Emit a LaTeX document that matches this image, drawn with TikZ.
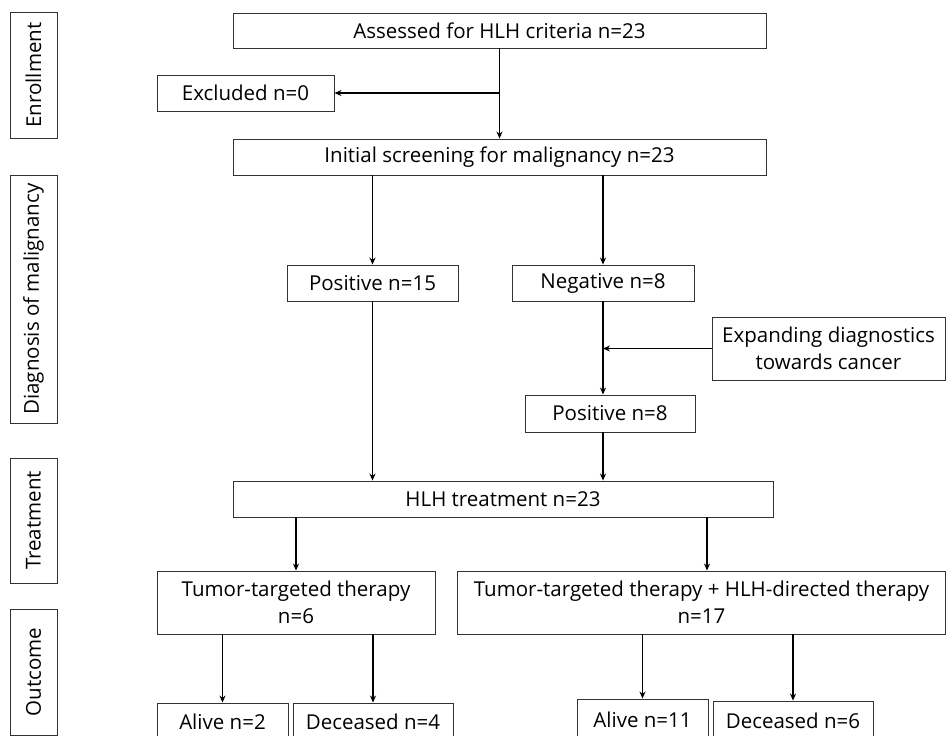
\documentclass[tikz,border=0pt]{standalone}
\usepackage{fontspec}
\setmainfont{Open Sans}
\usetikzlibrary{arrows.meta}
\begin{document}
\begin{tikzpicture}[x=1pt,y=-1pt,
  box/.style={draw=black!80,line width=0.9pt,inner sep=0pt,
    font=\fontsize{20.5}{24.6}\selectfont},
  two/.style={box,align=center,font=\fontsize{20.5}{27}\selectfont},
  lbl/.style={box,rotate=90,minimum height=47pt},
  arr/.style={draw=black,line width=1.4pt,-{Stealth[length=7pt,width=6pt]}}]
\useasboundingbox (0,0) rectangle (946,736);
\clip (0,0) rectangle (946,736);
% stage labels
\node[lbl,minimum width=126pt] (lenr) at (33.5,75) {Enrollment};
\node[lbl,minimum width=248pt] (ldia) at (33.5,299) {Diagnosis of malignancy};
\node[lbl,minimum width=125pt] (ltre) at (33.5,520.5) {Treatment};
\node[lbl,minimum width=126pt] (lout) at (33.5,672) {Outcome};
% boxes
\node[box,minimum width=533pt,minimum height=35pt] (assess) at (499.5,30.5) {Assessed for HLH criteria n=23};
\node[box,minimum width=177pt,minimum height=36pt] (excl) at (245.5,93) {Excluded n=0};
\node[box,minimum width=533pt,minimum height=36pt] (init) at (499.5,157) {Initial screening for malignancy n=23};
\node[box,minimum width=171pt,minimum height=36pt] (pos15) at (372.5,283) {Positive n=15};
\node[box,minimum width=182pt,minimum height=36pt] (neg) at (603,283) {Negative n=8};
\node[two,minimum width=233pt,minimum height=63pt] (exp) at (828.5,348.5) {Expanding diagnostics\\towards cancer};
\node[box,minimum width=170pt,minimum height=37pt] (pos8) at (610,413.5) {Positive n=8};
\node[box,minimum width=540pt,minimum height=36pt] (hlh) at (503,499) {HLH treatment n=23};
\node[two,minimum width=278pt,minimum height=63pt] (tum) at (296,602.5) {Tumor-targeted therapy\\n=6};
\node[two,minimum width=488pt,minimum height=63pt] (comb) at (701.5,602.5) {Tumor-targeted therapy + HLH-directed therapy\\n=17};
\node[box,minimum width=131pt,minimum height=37pt] (a2) at (222.5,721.5) {Alive n=2};
\node[box,minimum width=160pt,minimum height=37pt] (d4) at (373,721.5) {Deceased n=4};
\node[box,minimum width=131pt,minimum height=41pt] (a11) at (642.5,719.5) {Alive n=11};
\node[box,minimum width=160pt,minimum height=39pt] (d6) at (793,720.5) {Deceased n=6};
% connectors
\coordinate (j1) at (assess.south |- excl.east);
\draw[arr] (assess.south) -- (init.north);
\draw[arr] (j1) -- (excl.east);
\draw[arr] (init.south -| pos15.north) -- (pos15.north);
\draw[arr] (init.south -| neg.north) -- (neg.north);
\draw[arr] (neg.south) -- (neg.south |- pos8.north);
\draw[arr] (exp.west) -- (exp.west -| neg.south);
\draw[arr] (pos15.south) -- (pos15.south |- hlh.north);
\draw[arr] (pos8.south -| neg.south) -- (neg.south |- hlh.north);
\draw[arr] (hlh.south -| tum.north) -- (tum.north);
\coordinate (cn) at ([xshift=5.5pt]comb.north);
\draw[arr] (hlh.south -| cn) -- (cn);
\draw[arr] (tum.south -| a2.north) -- (a2.north);
\draw[arr] (tum.south -| d4.north) -- (d4.north);
\draw[arr] (comb.south -| a11.north) -- (a11.north);
\draw[arr] (comb.south -| d6.north) -- (d6.north);
\end{tikzpicture}
\end{document}
